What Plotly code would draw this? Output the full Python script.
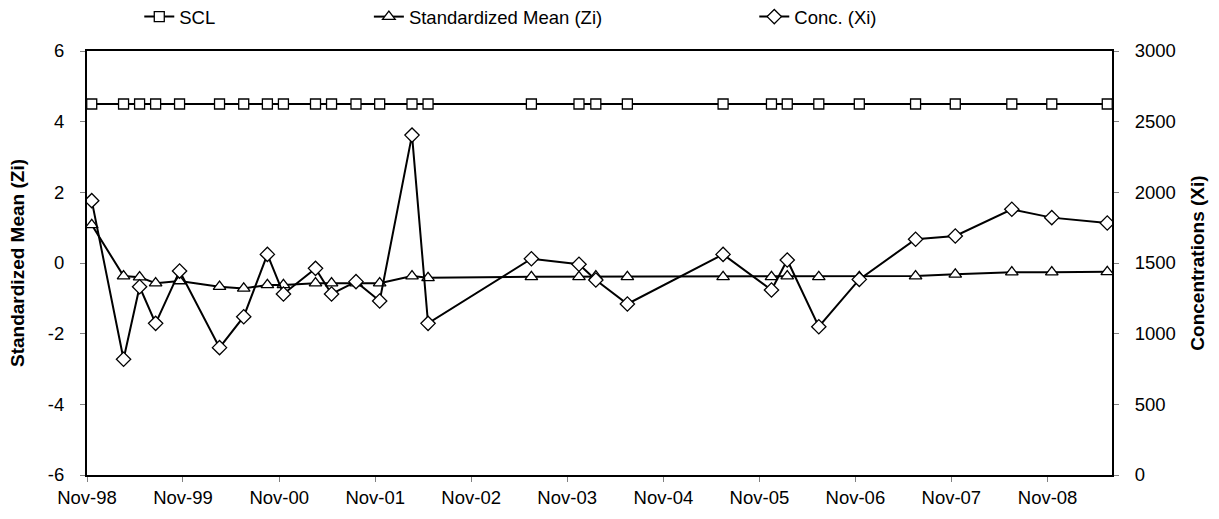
import plotly.graph_objects as go

# ---- data ----
dates = ["1998-11-19", "1999-03-20", "1999-05-20", "1999-07-20", "1999-10-19",
         "2000-03-19", "2000-06-19", "2000-09-17", "2000-11-17", "2001-03-19",
         "2001-05-19", "2001-08-20", "2001-11-18", "2002-03-21", "2002-05-21",
         "2003-06-18", "2003-12-16", "2004-02-18", "2004-06-17", "2005-06-16",
         "2005-12-17", "2006-02-15", "2006-06-15", "2006-11-16", "2007-06-18",
         "2007-11-16", "2008-06-18", "2008-11-17", "2009-06-16"]
scl = [4.5] * 29
zi = [1.08, -0.37, -0.40, -0.57, -0.51, -0.67, -0.72, -0.62, -0.62, -0.57,
      -0.57, -0.57, -0.57, -0.37, -0.42, -0.39, -0.39, -0.37, -0.39, -0.39,
      -0.39, -0.37, -0.39, -0.39, -0.37, -0.32, -0.26, -0.26, -0.25]
conc = [1941, 819, 1332, 1073, 1443, 901, 1120, 1561, 1281, 1462,
        1281, 1368, 1231, 2405, 1073, 1530, 1491, 1380, 1210, 1561,
        1309, 1521, 1049, 1384, 1668, 1691, 1880, 1821, 1783]

x_tick_vals = ["1998-11-01", "1999-11-01", "2000-11-01", "2001-11-01", "2002-11-01",
               "2003-11-01", "2004-11-01", "2005-11-01", "2006-11-01", "2007-11-01",
               "2008-11-01"]
x_tick_text = ["Nov-98", "Nov-99", "Nov-00", "Nov-01", "Nov-02", "Nov-03",
               "Nov-04", "Nov-05", "Nov-06", "Nov-07", "Nov-08"]
x_range = ["1998-11-01", "2009-07-04"]
y_left_ticks = [-6, -4, -2, 0, 2, 4, 6]
y_left_text = ["-6", "-4", "-2", "0", "2", "4", "6"]
y_right_ticks = [0, 500, 1000, 1500, 2000, 2500, 3000]
y_right_text = ["0", "500", "1000", "1500", "2000", "2500", "3000"]

FONT = "Arial, Liberation Sans, sans-serif"
TICKFONT = dict(family=FONT, size=18.5, color="black")

fig = go.Figure()
fig.add_trace(go.Scatter(
    x=dates, y=scl, name="SCL", mode="lines+markers", legend="legend",
    line=dict(color="black", width=2),
    marker=dict(symbol="square", size=10, color="white", line=dict(color="black", width=1.3)),
))
fig.add_trace(go.Scatter(
    x=dates, y=zi, name="Standardized Mean (Zi)", mode="lines+markers", legend="legend2",
    line=dict(color="black", width=2),
    marker=dict(symbol="triangle-up", size=11, color="white", line=dict(color="black", width=1.3)),
))
fig.add_trace(go.Scatter(
    x=dates, y=conc, name="Conc. (Xi)", mode="lines+markers", yaxis="y2", legend="legend3",
    line=dict(color="black", width=2),
    marker=dict(symbol="diamond", size=11, color="white", line=dict(color="black", width=1.3)),
))

leg_common = dict(orientation="h", yanchor="middle", y=1.08, xanchor="left",
                  font=dict(family=FONT, size=18.5, color="black"),
                  bgcolor="rgba(0,0,0,0)", borderwidth=0)

fig.update_layout(
    width=1219, height=519,
    margin=dict(l=87, r=107, t=51, b=44, autoexpand=False),
    paper_bgcolor="white", plot_bgcolor="white",
    font=dict(family=FONT, size=18.5, color="black"),
    showlegend=True,
    legend=dict(x=0.051, **leg_common),
    legend2=dict(x=0.275, **leg_common),
    legend3=dict(x=0.651, **leg_common),
    xaxis=dict(
        type="date", range=x_range, tickvals=x_tick_vals, ticktext=x_tick_text,
        showgrid=False, zeroline=False, showline=True, linecolor="black", linewidth=2,
        mirror=True, ticks="outside", ticklen=5, tickcolor="gray",
        tickfont=TICKFONT, automargin=False, ticklabelstandoff=0,
    ),
    yaxis=dict(
        range=[-6, 6], tickvals=y_left_ticks, ticktext=y_left_text, showgrid=False,
        zeroline=False, automargin=False,
        showline=True, linecolor="black", linewidth=2, ticks="outside", ticklen=5,
        tickcolor="gray", ticklabelstandoff=12,
        tickfont=TICKFONT,
        title=dict(text="<b>Standardized Mean (Zi)</b>", font=dict(family=FONT, size=19, color="black"),
                   standoff=18),
    ),
    yaxis2=dict(
        range=[0, 3000], tickvals=y_right_ticks, ticktext=y_right_text, overlaying="y",
        side="right", automargin=False,
        showgrid=False, zeroline=False, showline=True, linecolor="black", linewidth=2,
        ticks="outside", ticklen=5, tickcolor="gray", ticklabelstandoff=12,
        tickfont=TICKFONT,
        title=dict(text="<b>Concentrations (Xi)</b>", font=dict(family=FONT, size=19, color="black"),
                   standoff=16),
    ),
)

fig.write_html("out.html", config={"displayModeBar": False},
               post_script="document.body.style.margin='0';")
